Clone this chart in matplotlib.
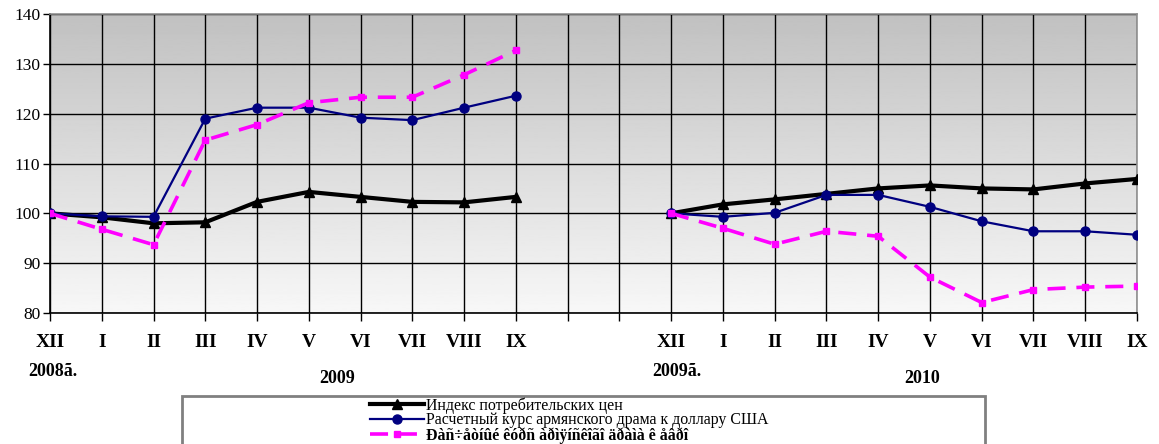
import numpy as np
import matplotlib
matplotlib.use("Agg")
import matplotlib.pyplot as plt
from matplotlib.patches import Rectangle

months = ["XII", "I", "II", "III", "IV", "V", "VI", "VII", "VIII", "IX",
          "", "",
          "XII", "I", "II", "III", "IV", "V", "VI", "VII", "VIII", "IX"]

# series per period (None = gap columns between the two periods)
cpi = [100.0, 99.2, 98.0, 98.2, 102.3, 104.3, 103.3, 102.3, 102.2, 103.3,
       None, None,
       100.0, 101.8, 102.8, 103.9, 105.0, 105.6, 105.0, 104.8, 106.0, 106.9]
usd = [100.0, 99.4, 99.3, 119.0, 121.2, 121.2, 119.2, 118.7, 121.2, 123.6,
       None, None,
       100.0, 99.3, 100.1, 103.7, 103.7, 101.3, 98.4, 96.4, 96.4, 95.7]
eur = [100.0, 96.8, 93.7, 114.7, 117.8, 122.2, 123.3, 123.3, 127.8, 132.7,
       None, None,
       100.0, 97.0, 93.8, 96.4, 95.4, 87.2, 82.1, 84.7, 85.2, 85.4]

series_labels = [
    "Индекс потребительских цен",
    "Расчетный курс армянского драма к доллару США",
    "Ðàñ÷åòíûé êóðñ àðìÿíñêîãî äðàìà ê åâðî",
]

year_labels = ["2008ã.", "2009", "2009ã.", "2010"]
year_x = [0.05, 5.55, 12.1, 16.85]
year_y = [-0.195, -0.218, -0.195, -0.218]

y_ticks = [80, 90, 100, 110, 120, 130, 140]

SERIF = ["Liberation Serif", "DejaVu Serif"]

fig = plt.figure(figsize=(11.59, 4.44), dpi=100)
ax = fig.add_axes([50 / 1159, 131 / 444, 1087 / 1159, 299 / 444])

x = np.arange(len(months))


def to_arr(vals):
    return np.array([np.nan if v is None else v for v in vals], dtype=float)


# gradient background, gray at top to near white at bottom
grad = np.linspace(0.755, 0.97, 256).reshape(-1, 1)
ax.imshow(grad, cmap="gray", vmin=0, vmax=1, aspect="auto",
          extent=[0, 1, 0, 1], transform=ax.transAxes, zorder=0)

ax.plot(x, to_arr(cpi), color="black", lw=3, marker="^", ms=7.5,
        label=series_labels[0], zorder=4)
ax.plot(x, to_arr(usd), color="#000080", lw=1.6, marker="o", ms=6.5,
        label=series_labels[1], zorder=4)
ax.plot(x, to_arr(eur), color="#ff00ff", lw=2.6, ls=(0, (5, 3)), marker="s",
        ms=5, label=series_labels[2], zorder=5)

ax.set_xlim(0, len(months) - 1)
ax.set_ylim(80, 140)
ax.set_yticks(y_ticks)
ax.set_xticks(x)
ax.set_xticklabels(months, family=SERIF, fontweight="bold", fontsize=14)
ax.set_yticklabels([str(v) for v in y_ticks], family=SERIF, fontsize=12.5)
ax.tick_params(axis="x", direction="out", length=6, width=1, pad=9)
ax.tick_params(axis="y", direction="out", length=5, width=1, pad=2)

ax.grid(True, color="black", lw=1, zorder=1)
ax.set_axisbelow(True)

for side in ("top", "right"):
    ax.spines[side].set_color("#909090")
    ax.spines[side].set_linewidth(1.2)
for side in ("left", "bottom"):
    ax.spines[side].set_color("black")
    ax.spines[side].set_linewidth(1.2)

for lab, xx, yy in zip(year_labels, year_x, year_y):
    ax.text(xx, yy, lab, transform=ax.get_xaxis_transform(), ha="center",
            va="center", family=SERIF, fontweight="bold", fontsize=13)

# legend box (extends past the bottom of the picture)
fig.patches.append(Rectangle((182 / 1159, -0.05), 803 / 1159, 0.05 + 48 / 444,
                             transform=fig.transFigure, facecolor="white",
                             edgecolor="#808080", lw=2, zorder=0))
leg = fig.legend(loc="upper left", bbox_to_anchor=(370 / 1159, 1 - 397 / 444),
                 frameon=False, handlelength=3.4, handletextpad=0.15,
                 labelspacing=-0.08, borderaxespad=0, borderpad=0,
                 prop={"family": SERIF, "size": 11.4})
leg.get_texts()[2].set_fontweight("bold")

fig.savefig("out.png", dpi=100)
